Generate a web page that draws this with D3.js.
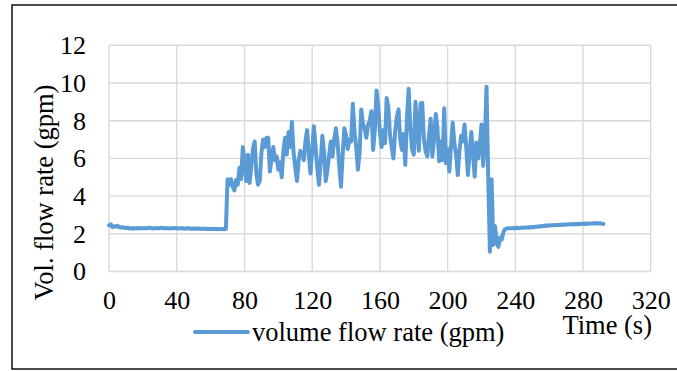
<!DOCTYPE html>
<html>
<head>
<meta charset="utf-8">
<script src="https://cdn.jsdelivr.net/npm/d3@7"></script>
<style>
  body { margin: 0; background: #fff; }
  svg { display: block; }
  svg text { font-family: "Liberation Serif", "Times New Roman", serif; fill: #000; }
</style>
</head>
<body>
<div class="chart"></div>
<script>
// flow samples, one per second starting at t = 0 s
var sampleStart = 0;
var sampleStep = 1;
var flowGpm = [
  // 0 - 69 s
  2.45, 2.5, 2.35, 2.4, 2.38, 2.42, 2.36, 2.33, 2.35, 2.32,
  2.3, 2.33, 2.28, 2.3, 2.27, 2.3, 2.29, 2.31, 2.28, 2.3,
  2.3, 2.29, 2.31, 2.3, 2.32, 2.3, 2.28, 2.3, 2.31, 2.29,
  2.3, 2.32, 2.3, 2.29, 2.31, 2.3, 2.28, 2.3, 2.29, 2.31,
  2.3, 2.28, 2.29, 2.3, 2.27, 2.29, 2.28, 2.3, 2.27, 2.28,
  2.27, 2.29, 2.26, 2.28, 2.27, 2.26, 2.28, 2.25, 2.27, 2.26,
  2.25, 2.27, 2.25, 2.26, 2.24, 2.26, 2.25, 2.24, 2.26, 2.25,
  // 70 - 223 s
  4.9, 4.6, 4.9, 4.5, 4.3, 4.85, 4.6, 5.5, 4.9, 6.6,
  5.8, 4.8, 6.2, 4.7, 5.6, 6.5, 6.9, 5.2, 4.6, 4.8,
  6.3, 7.0, 6.6, 7.1, 7.1, 5.3, 6.0, 6.6, 5.9, 6.1,
  5.4, 5.8, 5.0, 6.4, 7.1, 6.2, 7.4, 6.6, 7.95, 6.3,
  5.5, 4.8, 5.9, 6.4, 6.2, 5.9, 6.9, 7.5, 6.2, 5.2,
  6.4, 7.7, 6.6, 5.5, 4.6, 5.8, 7.2, 6.3, 4.8, 5.4,
  6.2, 6.9, 6.1, 7.0, 7.6, 6.8, 5.6, 4.5, 6.2, 7.6,
  7.2, 6.5, 7.0, 6.9, 8.9, 7.4, 6.6, 5.4, 6.3, 8.6,
  7.8, 7.6, 7.1, 7.8, 8.0, 8.5, 6.45, 7.5, 9.6, 8.8,
  7.4, 6.6, 7.5, 6.8, 9.2, 8.7, 7.2, 6.6, 6.0, 7.4,
  8.2, 8.6, 7.0, 6.45, 7.3, 5.65, 8.2, 9.7, 7.6, 6.5,
  6.2, 9.0, 7.5, 6.4, 8.9, 8.95, 7.0, 6.4, 6.1, 7.2,
  8.1, 6.1, 7.0, 8.35, 7.6, 5.85, 6.9, 5.9, 8.66, 5.75,
  6.5, 5.3, 6.6, 7.9, 6.8, 6.2, 5.12, 6.4, 7.2, 6.9,
  7.8, 6.6, 5.12, 6.3, 7.4, 6.2, 5.03, 6.85, 6.0, 6.6,
  7.8, 5.6, 6.9, 9.8,
  // 224 - 234 s
  5.0, 1.05, 4.9, 1.4, 2.4, 1.6, 1.3, 1.8, 1.7, 2.1, 2.25,
  // 235 - 292 s
  2.28, 2.3, 2.29, 2.3, 2.31, 2.3, 2.32, 2.3, 2.31, 2.33,
  2.32, 2.34, 2.33, 2.35, 2.34, 2.36, 2.35, 2.38, 2.37, 2.4,
  2.39, 2.42, 2.41, 2.44, 2.43, 2.45, 2.44, 2.46, 2.45, 2.47,
  2.46, 2.48, 2.47, 2.49, 2.48, 2.5, 2.49, 2.51, 2.5, 2.52,
  2.5, 2.52, 2.51, 2.53, 2.52, 2.54, 2.52, 2.55, 2.53, 2.55,
  2.54, 2.56, 2.55, 2.57, 2.55, 2.56, 2.54, 2.52
];

var xTicks = [0, 40, 80, 120, 160, 200, 240, 280, 320];
var yTicks = [0, 2, 4, 6, 8, 10, 12];
var seriesName = "volume flow rate (gpm)";
var xTitle = "Time (s)";
var yTitle = "Vol. flow rate (gpm)";

var width = 677;
var height = 371;
var margin = { top: 45.3, right: 26.3, bottom: 99.5, left: 109.1 };
var innerW = width - margin.left - margin.right;
var innerH = height - margin.top - margin.bottom;
var fontFamily = "'Liberation Serif', 'Times New Roman', serif";
var tickSize = 26;
var titleSize = 26.5;
var lineColor = "#5b9bd5";
var gridColor = "#d9d9d9";

var points = flowGpm.map(function (v, i) {
  return { t: sampleStart + i * sampleStep, v: v };
});

var svg = d3.select(".chart")
  .append("svg")
  .attr("width", width)
  .attr("height", height)
  .style("font-family", fontFamily);

// outer chart frame (right side runs off the picture)
svg.append("rect")
  .attr("x", 12)
  .attr("y", 5)
  .attr("width", 700)
  .attr("height", 364)
  .attr("fill", "none")
  .attr("stroke", "#000")
  .attr("stroke-width", 1.4);

var g = svg.append("g")
  .attr("transform", "translate(" + margin.left + "," + margin.top + ")");

var x = d3.scaleLinear().domain([0, 320]).range([0, innerW]);
var y = d3.scaleLinear().domain([0, 12]).range([innerH, 0]);

// gridlines
g.append("g")
  .selectAll("line")
  .data(xTicks)
  .enter()
  .append("line")
  .attr("x1", function (d) { return x(d); })
  .attr("x2", function (d) { return x(d); })
  .attr("y1", 0)
  .attr("y2", innerH)
  .style("stroke", gridColor)
  .style("stroke-width", 1.4);

g.append("g")
  .selectAll("line")
  .data(yTicks)
  .enter()
  .append("line")
  .attr("x1", 0)
  .attr("x2", innerW)
  .attr("y1", function (d) { return y(d); })
  .attr("y2", function (d) { return y(d); })
  .style("stroke", gridColor)
  .style("stroke-width", 1.4);

// axes, labels only
var xAxis = g.append("g")
  .attr("transform", "translate(0," + innerH + ")")
  .call(d3.axisBottom(x).tickValues(xTicks).tickSize(0).tickPadding(19.5));

var yAxis = g.append("g")
  .call(d3.axisLeft(y).tickValues(yTicks).tickSize(0).tickPadding(23));

[xAxis, yAxis].forEach(function (a) {
  a.attr("font-family", fontFamily).attr("font-size", tickSize);
  a.select(".domain").remove();
  a.selectAll("text")
    .style("font-family", fontFamily)
    .style("font-size", tickSize + "px")
    .style("fill", "#000");
});

// the series
var line = d3.line()
  .x(function (d) { return x(d.t); })
  .y(function (d) { return y(d.v); });

g.append("path")
  .datum(points)
  .attr("d", line)
  .attr("fill", "none")
  .attr("stroke", lineColor)
  .attr("stroke-width", 4)
  .attr("stroke-linejoin", "round")
  .attr("stroke-linecap", "round");

// axis titles
svg.append("text")
  .attr("transform", "translate(53,192.5) rotate(-90)")
  .attr("text-anchor", "middle")
  .style("font-family", fontFamily)
  .style("font-size", titleSize + "px")
  .text(yTitle);

svg.append("text")
  .attr("x", 652)
  .attr("y", 334)
  .attr("text-anchor", "end")
  .style("font-family", fontFamily)
  .style("font-size", titleSize + "px")
  .text(xTitle);

// legend
svg.append("line")
  .attr("x1", 195)
  .attr("x2", 248)
  .attr("y1", 332)
  .attr("y2", 332)
  .attr("stroke", lineColor)
  .attr("stroke-width", 4)
  .attr("stroke-linecap", "round");

svg.append("text")
  .attr("x", 252)
  .attr("y", 341)
  .style("font-family", fontFamily)
  .style("font-size", titleSize + "px")
  .text(seriesName);
</script>
</body>
</html>
